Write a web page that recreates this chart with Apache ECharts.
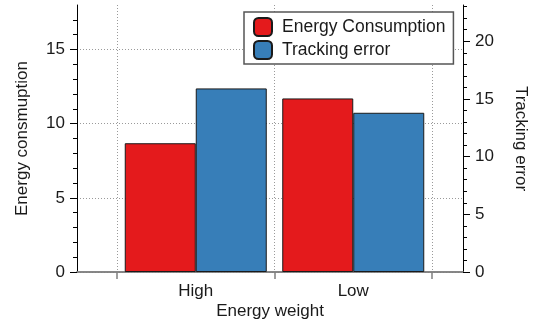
<!DOCTYPE html>
<html>
<head>
<meta charset="utf-8">
<script src="https://cdn.jsdelivr.net/npm/echarts@6/dist/echarts.min.js"></script>
<style>html,body{margin:0;padding:0;background:#fff}#c{width:534px;height:328px}</style>
</head>
<body>
<div id="c"></div>
<script>
// ---- data ----
const categories = ['High', 'Low'];
const energyConsumption = [8.68, 11.70];
const trackingError = [15.91, 13.80];
const leftMax = 18;
const rightMax = 23.14;
const leftMajorTicks = [0, 5, 10, 15];
const rightMajorTicks = [0, 5, 10, 15, 20];
const seriesNames = ['Energy Consumption', 'Tracking error'];

function intsBelow(max) { const a = []; for (let i = 1; i < max; i++) a.push(i); return a; }
const leftMinorTicks = intsBelow(leftMax);
const rightMinorTicks = intsBelow(rightMax);

const FONT = '"Liberation Sans", Arial, Helvetica, sans-serif';
const TXT = '#1a1a1a';
const FS = 17;

const chart = echarts.init(document.getElementById('c'), null, {renderer: 'canvas'});

function majorAxis(pos, max, ticks, name) {
  return {
    type: 'value', gridIndex: 0, position: pos, min: 0, max: max,
    interval: 5,
    axisLine: {show: true, lineStyle: {color: '#000', width: 1}},
    axisTick: {show: true, length: 7, customValues: ticks, lineStyle: {color: '#000', width: 1}},
    axisLabel: {show: true, customValues: ticks, margin: 12, fontSize: FS, fontFamily: FONT, color: TXT},
    splitLine: {show: pos === 'left', lineStyle: {color: '#9a9a9a', width: 1, type: [1, 2]}},
    name: name, nameLocation: 'middle', nameGap: pos === 'left' ? 46 : 49,
    nameRotate: pos === 'left' ? 90 : -90,
    nameTextStyle: {fontSize: FS, fontFamily: FONT, color: TXT}
  };
}
function minorAxis(pos, max, ticks) {
  return {
    type: 'value', gridIndex: 0, position: pos, min: 0, max: max,
    axisLine: {show: false},
    axisTick: {show: true, length: 4, customValues: ticks, lineStyle: {color: '#000', width: 1}},
    axisLabel: {show: false},
    splitLine: {show: false}
  };
}
function hiddenAxis(max) {
  return {type: 'value', gridIndex: 1, min: 0, max: max, show: false,
    axisLine: {show: false}, axisTick: {show: false}, axisLabel: {show: false}, splitLine: {show: false}};
}

const barBorder = {borderColor: '#1a1a1a', borderWidth: 1};

chart.setOption({
  animation: false,
  backgroundColor: '#fff',
  textStyle: {fontFamily: FONT},
  grid: [
    {left: 77, right: 71, top: 5, bottom: 56, containLabel: false, outerBoundsMode: 'none'},
    {left: 117, right: 102, top: 5, bottom: 56, containLabel: false, outerBoundsMode: 'none'}
  ],
  legend: {
    orient: 'vertical', left: 244, top: 12,
    data: seriesNames,
    icon: 'roundRect', itemWidth: 18, itemHeight: 18, itemGap: 3,
    padding: [5, 8, 4, 9],
    backgroundColor: '#fff', borderColor: '#555', borderWidth: 1.5, borderRadius: 0,
    textStyle: {fontSize: 17.5, fontFamily: FONT, color: TXT, padding: [0, 0, 0, 5], lineHeight: 18}
  },
  xAxis: [
    {type: 'value', gridIndex: 0, position: 'bottom', min: 0, max: 1,
     axisLine: {show: true, lineStyle: {color: '#808080', width: 1.5}},
     axisTick: {show: false}, axisLabel: {show: false}, splitLine: {show: false},
     name: 'Energy weight', nameLocation: 'middle', nameGap: 31,
     nameTextStyle: {fontSize: FS, fontFamily: FONT, color: TXT}},
    {type: 'value', gridIndex: 0, position: 'top', min: 0, max: 1,
     axisLine: {show: true, lineStyle: {color: '#808080', width: 1.5}},
     axisTick: {show: false}, axisLabel: {show: false}, splitLine: {show: false}},
    {type: 'category', gridIndex: 1, position: 'bottom', data: categories, boundaryGap: true,
     axisLine: {show: false},
     axisTick: {show: true, length: 7, interval: 0, lineStyle: {color: '#808080', width: 1.5}},
     axisLabel: {margin: 11, fontSize: FS, fontFamily: FONT, color: TXT, interval: 0},
     splitLine: {show: true, interval: 0, lineStyle: {color: '#9a9a9a', width: 1, type: [1, 2]}}}
  ],
  yAxis: [
    majorAxis('left', leftMax, leftMajorTicks, 'Energy consmuption'),
    minorAxis('left', leftMax, leftMinorTicks),
    majorAxis('right', rightMax, rightMajorTicks, 'Tracking error'),
    minorAxis('right', rightMax, rightMinorTicks),
    hiddenAxis(leftMax),
    hiddenAxis(rightMax)
  ],
  series: [
    {name: seriesNames[0], type: 'bar', xAxisIndex: 2, yAxisIndex: 4, data: energyConsumption,
     barWidth: 71, barGap: '0%', itemStyle: Object.assign({color: '#E41A1C'}, barBorder)},
    {name: seriesNames[1], type: 'bar', xAxisIndex: 2, yAxisIndex: 5, data: trackingError,
     barWidth: 71, barGap: '0%', itemStyle: Object.assign({color: '#377EB8'}, barBorder)}
  ]
});
</script>
</body>
</html>
